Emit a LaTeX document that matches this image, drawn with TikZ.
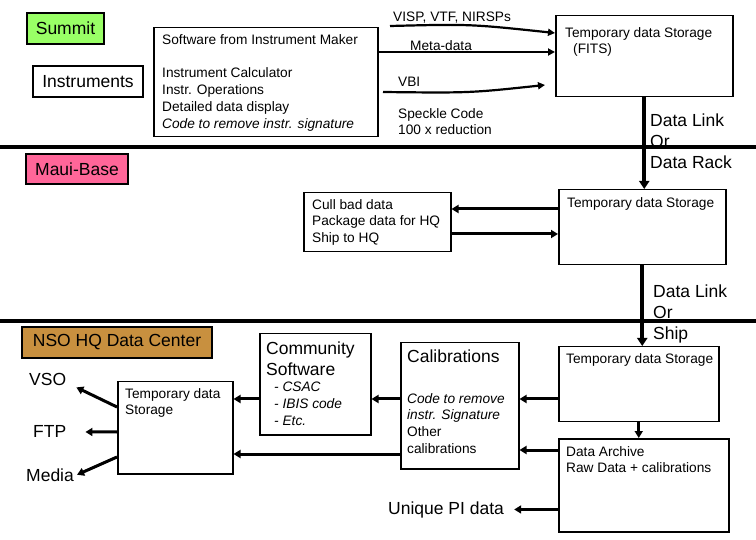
\documentclass[tikz,border=0pt]{standalone}
\usepackage{fontspec}
\setmainfont{Liberation Sans}
\usetikzlibrary{arrows.meta}
\definecolor{summitgreen}{RGB}{153,255,102}
\definecolor{mauipink}{RGB}{255,102,153}
\definecolor{hqbrown}{RGB}{200,144,63}
\tikzset{
   small/.style={font=\fontsize{13.7}{16.8}\selectfont},
   big/.style={font=\fontsize{17.5}{21}\selectfont},
   txt/.style={small,anchor=north west,inner sep=0pt,align=left},
   bigtxt/.style={big,anchor=north west,inner sep=0pt,align=left},
   box/.style={draw,line width=1.5pt,inner sep=0pt,anchor=north west},
   tag/.style={draw,line width=1.5pt,inner sep=0pt,big},
   flow/.style={line width=3pt,-{Triangle[length=7pt,width=8pt]}},
   link/.style={line width=4pt,-{Triangle[length=8pt,width=10pt]}},
   feed/.style={line width=2.2pt,-{Triangle[length=7pt,width=7pt]}}
}
\begin{document}
\begin{tikzpicture}[x=1pt,y=-1pt]
   \useasboundingbox (0,0) rectangle (756,540);
   \draw[line width=4pt] (0,147) -- (756,147);
   \draw[line width=4pt] (0,321) -- (756,321);
   \node[tag,fill=summitgreen,minimum width=77pt,minimum height=31pt] (summit) at (65.5,28.5) {Summit};
   \node[tag,minimum width=110pt,minimum height=31pt] (instr) at (88,81.5) {Instruments};
   \node[tag,fill=mauipink,minimum width=102pt,minimum height=30pt] (maui) at (77,169) {Maui-Base};
   \node[tag,fill=hqbrown,minimum width=190pt,minimum height=31pt] (nso) at (117,342.5) {NSO HQ Data Center};
   \node[box,minimum width=224pt,minimum height=109pt] (swbox) at (153,27) {};
   \node[box,minimum width=177pt,minimum height=81pt] (fits) at (555,15) {};
   \node[box,minimum width=147pt,minimum height=59pt] (cull) at (303,192) {};
   \node[box,minimum width=167pt,minimum height=75pt] (mtemp) at (558,189) {};
   \node[box,minimum width=115pt,minimum height=92pt] (hqtemp) at (117,381) {};
   \node[box,minimum width=111pt,minimum height=101pt] (comm) at (259,333) {};
   \node[box,minimum width=118pt,minimum height=126pt] (calib) at (400,342) {};
   \node[box,minimum width=160pt,minimum height=75pt] (htemp) at (558,346) {};
   \node[box,minimum width=170pt,minimum height=93pt] (archive) at (558,438) {};
   \node[txt] at (162,34) {Software from Instrument Maker\\\mbox{}\\Instrument Calculator\\Instr. Operations\\Detailed data display\\\textit{Code to remove instr. signature}};
   \node[txt] at (393,12) {VISP, VTF, NIRSPs};
   \node[txt] at (410,40) {Meta-data};
   \node[txt] at (398,77) {VBI};
   \node[txt] at (398,108) {Speckle Code\\100 x reduction};
   \node[txt] at (565,27) {Temporary data Storage\\\hspace*{8pt}(FITS)};
   \node[bigtxt] at (650,113.5) {Data Link\\Or\\Data Rack};
   \node[txt] at (312,199) {Cull bad data\\Package data for HQ\\Ship to HQ};
   \node[txt] at (567,197) {Temporary data Storage};
   \node[bigtxt] at (653,284.5) {Data Link\\Or\\Ship};
   \node[txt] at (125,388) {Temporary data\\Storage};
   \node[bigtxt] at (266,341.5) {Community\\Software};
   \node[txt] at (274,382) {\textit{- CSAC}\\\textit{- IBIS code}\\\textit{- Etc.}};
   \node[bigtxt] at (407,349.5) {Calibrations};
   \node[txt] at (407,393) {\textit{Code to remove}\\\textit{instr. Signature}\\Other\\calibrations};
   \node[txt] at (566,353) {Temporary data Storage};
   \node[txt] at (566,446) {Data Archive\\Raw Data + calibrations};
   \node[big,anchor=base west,inner sep=0pt] (vso) at (29,386) {VSO};
   \node[big,anchor=base west,inner sep=0pt] (ftp) at (33,438) {FTP};
   \node[big,anchor=base west,inner sep=0pt] (media) at (26,481) {Media};
   \node[big,anchor=base west,inner sep=0pt] (pi) at (388,514) {Unique PI data};
   \coordinate (visp) at (390,26);
   \coordinate (vbi) at (383,92);
   \coordinate (vbiend) at (545,85);
   \draw[feed] (visp) .. controls (470,24) .. ([yshift=-18pt]fits.north west);
   \draw[feed] ([yshift=-25pt]swbox.north east) -- ([yshift=-25pt]swbox.north east -| fits.west);
   \draw[feed] (vbi) .. controls (470,93) .. (vbiend);
   \draw[link] (fits.south) -- (fits.south |- mtemp.north);
   \draw[flow] ([yshift=-20pt]mtemp.north west) -- ([yshift=-20pt]mtemp.north west -| cull.east);
   \draw[flow] ([yshift=-42pt]cull.north east) -- ([yshift=-42pt]cull.north east -| mtemp.west);
   \draw[link] (mtemp.south) -- (mtemp.south |- htemp.north);
   \draw[flow] (htemp.south) -- (htemp.south |- archive.north);
   \draw[flow] ([yshift=-53pt]htemp.north west) -- ([yshift=-53pt]htemp.north west -| calib.east);
   \draw[flow] ([yshift=-12pt]archive.north west) -- ([yshift=-12pt]archive.north west -| calib.east);
   \draw[flow] (archive.west |- pi) -- ([xshift=10pt]pi.east);
   \draw[flow] ([yshift=-57pt]calib.north west) -- ([yshift=-57pt]calib.north west -| comm.east);
   \draw[flow] ([yshift=-112pt]calib.north west) -- ([yshift=-112pt]calib.north west -| hqtemp.east);
   \draw[flow] ([yshift=-66pt]comm.north west) -- ([yshift=-66pt]comm.north west -| hqtemp.east);
   \draw[flow] ([yshift=-26pt]hqtemp.north west) -- ([xshift=10pt,yshift=-1pt]vso.south east);
   \draw[flow] ([yshift=-51pt]hqtemp.north west) -- ([xshift=19pt]ftp.east);
   \draw[flow] ([yshift=-76pt]hqtemp.north west) -- ([xshift=3pt]media.east);
\end{tikzpicture}
\end{document}
